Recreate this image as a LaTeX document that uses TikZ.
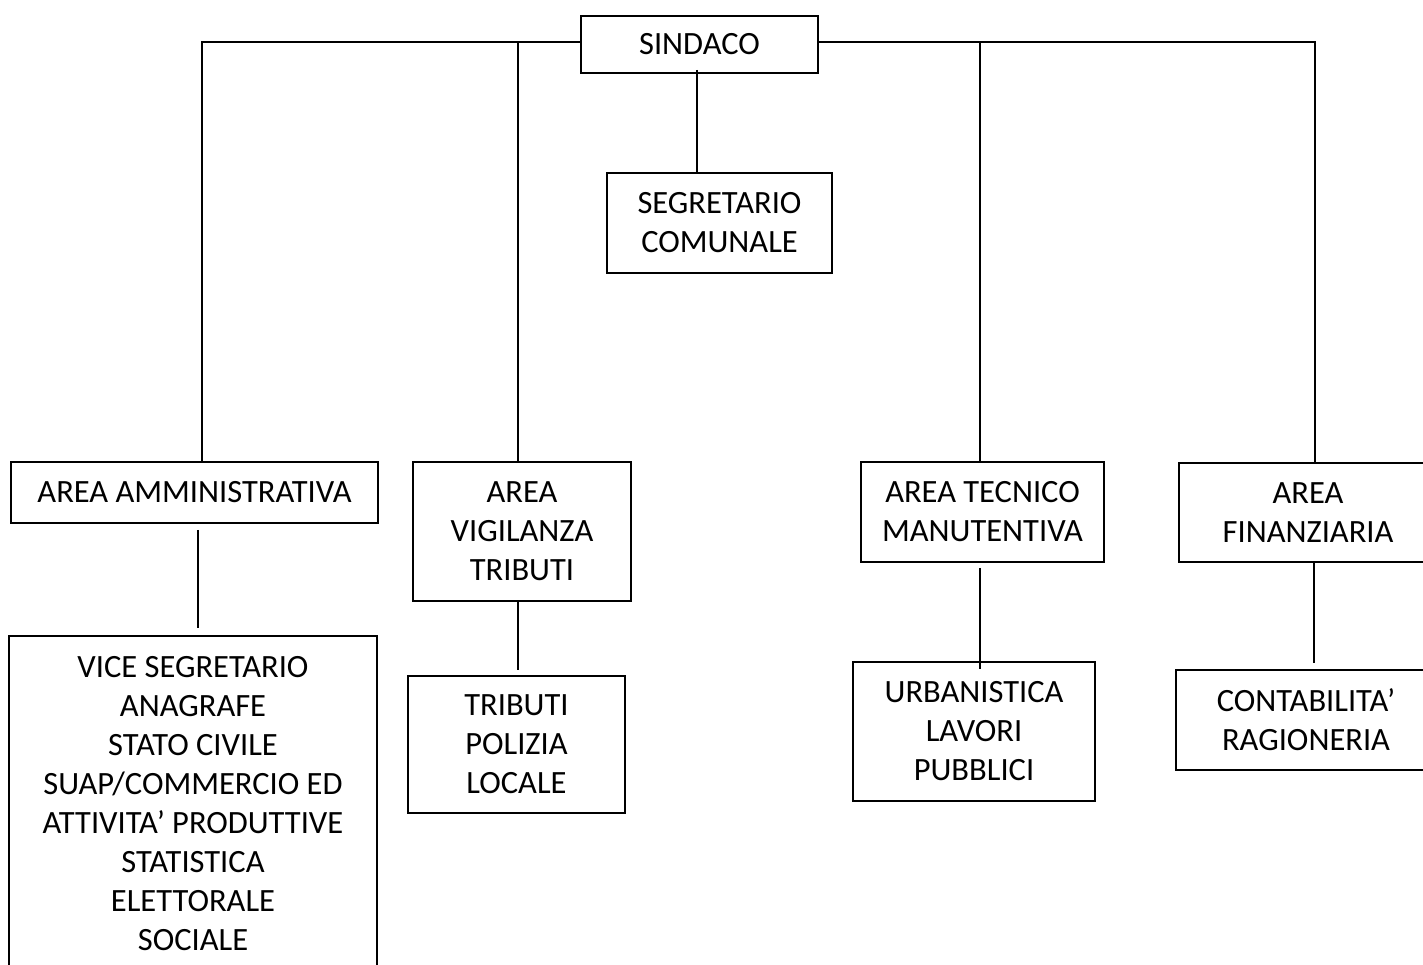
\documentclass[tikz,border=0pt]{standalone}
\usepackage{fontspec}
\setmainfont{Carlito}
\begin{document}
\begin{tikzpicture}[x=1pt,y=-1pt,
  box/.style={draw,line width=1.6pt,rectangle,inner sep=0pt,align=center,
    font=\fontsize{32.5}{39}\selectfont},
  conn/.style={line width=1.6pt}]
\useasboundingbox (0,0) rectangle (1423,964);
\node[box,minimum width=237pt,minimum height=57pt] (sindaco) at (699.5,44.5) {SINDACO};
\node[box,minimum width=225pt,minimum height=100pt] (segr) at (719.5,223) {SEGRETARIO\\COMUNALE};
\node[box,minimum width=367pt,minimum height=61pt] (amm) at (194.5,492.5) {AREA AMMINISTRATIVA};
\node[box,minimum width=218pt,minimum height=139pt] (vig) at (522,531.5) {AREA\\VIGILANZA\\TRIBUTI};
\node[box,minimum width=243pt,minimum height=100pt] (tec) at (982.5,512) {AREA TECNICO\\MANUTENTIVA};
\node[box,minimum width=258pt,minimum height=99pt] (fin) at (1308,512.5) {AREA\\FINANZIARIA};
\node[box,minimum width=368pt,minimum height=336pt] (vice) at (193,804) {VICE SEGRETARIO\\ANAGRAFE\\STATO CIVILE\\SUAP/COMMERCIO ED\\ATTIVITA’ PRODUTTIVE\\STATISTICA\\ELETTORALE\\SOCIALE};
\node[box,minimum width=217pt,minimum height=137pt] (trib) at (516.5,744.5) {TRIBUTI\\POLIZIA\\LOCALE};
\node[box,minimum width=242pt,minimum height=139pt] (urb) at (974,731.5) {URBANISTICA\\LAVORI\\PUBBLICI};
\node[box,minimum width=260pt,minimum height=100pt] (cont) at (1306,720) {CONTABILITA’\\RAGIONERIA};
% branch coordinates
\coordinate (cA) at (202,42);
\coordinate (cB) at (518,42);
\coordinate (cC) at (980,42);
\coordinate (cD) at (1315,42);
\coordinate (vA) at (198,0);
\coordinate (vB) at (518,0);
\coordinate (vC) at (980,0);
\coordinate (vD) at (1314,0);
\coordinate (vS) at (697,0);
% top bus
\draw[conn] (sindaco.west |- cA) -- (cA) -- (cA |- amm.north);
\draw[conn] (cB) -- (cB |- vig.north);
\draw[conn] (sindaco.east |- cD) -- (cD) -- (cD |- fin.north);
\draw[conn] (cC) -- (cC |- tec.north);
% vertical connectors
\draw[conn,shorten <=-4pt] (sindaco.south -| vS) -- (segr.north -| vS);
\draw[conn,shorten <=6pt,shorten >=7pt] (amm.south -| vA) -- (vice.north -| vA);
\draw[conn,shorten >=5pt] (vig.south -| vB) -- (trib.north -| vB);
\draw[conn,shorten <=5pt,shorten >=-8pt] (tec.south -| vC) -- (urb.north -| vC);
\draw[conn,shorten >=6pt] (fin.south -| vD) -- (cont.north -| vD);
\end{tikzpicture}
\end{document}
